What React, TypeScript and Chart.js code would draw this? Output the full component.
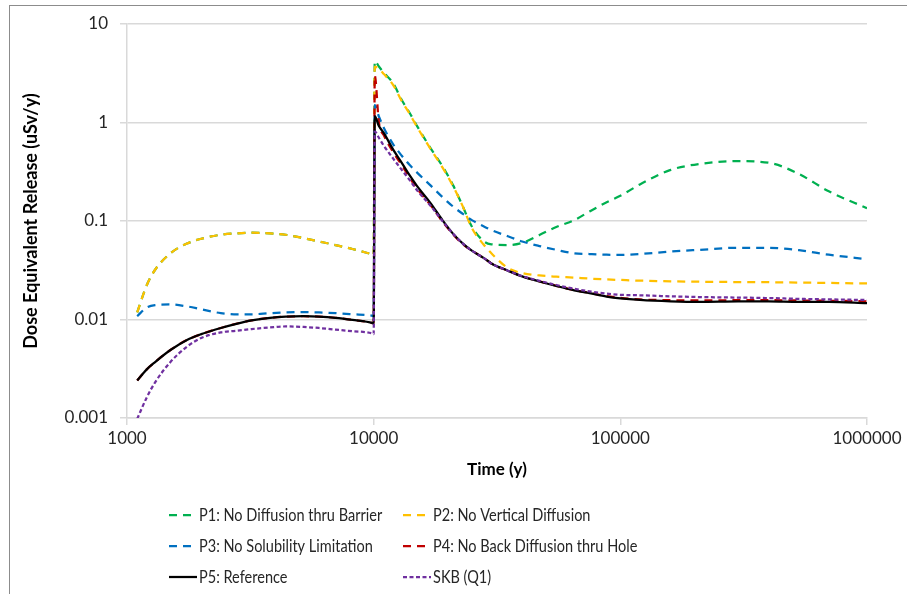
import React, { useEffect, useRef } from "react";
import { Chart, registerables } from "chart.js";

Chart.register(...registerables);

// Time (y)
const TIMES = [
  1100, 1200, 1300, 1500, 1750, 2000, 2400, 2800, 3200, 3800, 4400, 5200, 6000, 7000, 8200, 9900, 10000,
  10100, 10500, 11000, 12000, 13000, 14000, 15000, 17000, 19000, 21000, 23000, 25000, 28000, 30000, 35000,
  40000, 47000, 55000, 65000, 75000, 88000, 100000, 120000, 160000, 210000, 300000, 400000, 530000, 700000,
  1000000,
];

const P1_VALUES = [
  0.0118, 0.022, 0.032, 0.047, 0.059, 0.066, 0.0725, 0.075, 0.076, 0.075, 0.0725, 0.067, 0.062, 0.057, 0.052, 0.0455, 0.045,
  4.2, 3.7, 3.2, 2.5, 1.69, 1.25, 0.92, 0.55, 0.36, 0.23, 0.14, 0.088, 0.062, 0.058, 0.057, 0.06, 0.072, 0.087, 0.102,
  0.125, 0.155, 0.18, 0.235, 0.33, 0.38, 0.405, 0.39, 0.3, 0.2, 0.135,
];

const P2_VALUES = [
  0.0118, 0.022, 0.032, 0.047, 0.059, 0.066, 0.0725, 0.075, 0.076, 0.075, 0.0725, 0.067, 0.062, 0.057, 0.052, 0.0455, 0.045,
  3.7, 3.5, 3.1, 2.4, 1.65, 1.22, 0.9, 0.54, 0.35, 0.225, 0.14, 0.085, 0.057, 0.047, 0.0333, 0.0296, 0.028, 0.0272, 0.0266,
  0.026, 0.0255, 0.0252, 0.0248, 0.0244, 0.0242, 0.024, 0.0239, 0.0237, 0.0235, 0.0232,
];

const P3_VALUES = [
  0.0108, 0.0132, 0.014, 0.0142, 0.0136, 0.0127, 0.0116, 0.0113, 0.0113, 0.0116, 0.0118, 0.0119, 0.0118, 0.0116, 0.0113, 0.0109, 0.0108,
  1.5, 1.15, 0.88, 0.6, 0.46, 0.37, 0.31, 0.23, 0.175, 0.14, 0.118, 0.102, 0.088, 0.081, 0.07, 0.062, 0.0557, 0.051, 0.047,
  0.0462, 0.0455, 0.0453, 0.0462, 0.049, 0.051, 0.0535, 0.0535, 0.0505, 0.0455, 0.041,
];

const P4_VALUES = [
  0.0024, 0.0031, 0.0037, 0.0049, 0.0062, 0.0071, 0.0082, 0.0091, 0.0098, 0.0104, 0.0107, 0.0108, 0.0107, 0.0104, 0.0099, 0.0092, 0.0091,
  3.0, 1.0, 0.74, 0.5, 0.37, 0.275, 0.213, 0.145, 0.099, 0.073, 0.058, 0.05, 0.042, 0.037, 0.0313, 0.0274, 0.0244, 0.022, 0.0199,
  0.0186, 0.0173, 0.0166, 0.016, 0.0157, 0.0156, 0.0157, 0.0157, 0.0156, 0.0155, 0.0153,
];

const P5_VALUES = [
  0.0024, 0.0031, 0.0037, 0.0049, 0.0062, 0.0071, 0.0082, 0.0091, 0.0098, 0.0104, 0.0107, 0.0108, 0.0107, 0.0104, 0.0099, 0.0092, 0.0091,
  1.16, 0.92, 0.78, 0.53, 0.39, 0.29, 0.226, 0.152, 0.102, 0.074, 0.059, 0.05, 0.042, 0.037, 0.0313, 0.0274, 0.0243, 0.0219, 0.0198,
  0.0185, 0.0171, 0.0164, 0.0158, 0.0153, 0.0151, 0.0153, 0.0153, 0.0151, 0.0151, 0.0147,
];

const SKB_VALUES = [
  0.00098, 0.0016, 0.0023, 0.0037, 0.0053, 0.0065, 0.0074, 0.0077, 0.008, 0.0083, 0.0085, 0.0084, 0.0082, 0.0079, 0.0076, 0.0072, 0.0071,
  0.81, 0.7, 0.58, 0.43, 0.33, 0.26, 0.205, 0.143, 0.1, 0.074, 0.059, 0.05, 0.042, 0.037, 0.0313, 0.0276, 0.0247, 0.0224, 0.0205,
  0.0193, 0.0183, 0.0178, 0.0176, 0.0172, 0.0169, 0.0167, 0.0165, 0.0162, 0.016, 0.0158,
];

const SERIES_LABELS = [
  "P1: No Diffusion thru Barrier",
  "P2: No Vertical Diffusion",
  "P3: No Solubility Limitation",
  "P4: No Back Diffusion thru Hole",
  "P5: Reference",
  "SKB (Q1)",
];

const X_TICKS = [1000, 10000, 100000, 1000000];
const Y_TICKS = [0.001, 0.01, 0.1, 1, 10];
const Y_TICK_LABELS = ["0.001", "0.01", "0.1", "1", "10"];

const X_TITLE = "Time (y)";
const Y_TITLE = "Dose Equivalent Release (uSv/y)";

const FONT = "Lato, 'Liberation Sans', sans-serif";
const TEXT_COLOR = "#262626";
const GRID_COLOR = "#D9D9D9";

const legendPlugin = {
  id: "customLegend",
  afterDraw(chart: any) {
    const ctx = chart.ctx;
    const cols = [169, 403];
    const rows = [515, 546, 577];
    chart.data.datasets.forEach((ds: any, i: number) => {
      const x = cols[i % 2];
      const y = rows[Math.floor(i / 2)];
      ctx.save();
      ctx.strokeStyle = ds.borderColor;
      ctx.lineWidth = ds.borderWidth;
      ctx.setLineDash(ds.borderDash || []);
      ctx.beginPath();
      ctx.moveTo(x, y);
      ctx.lineTo(x + 28, y);
      ctx.stroke();
      ctx.setLineDash([]);
      ctx.fillStyle = TEXT_COLOR;
      ctx.font = `16.5px ${FONT}`;
      ctx.textBaseline = "middle";
      ctx.textAlign = "left";
      ctx.translate(x + 30, y + 1);
      ctx.scale(0.88, 1);
      ctx.fillText(ds.label, 0, 0);
      ctx.restore();
    });
  },
};

function toPoints(values: number[]) {
  return TIMES.map((t, i) => ({ x: t, y: values[i] }));
}

export default function App() {
  const canvasRef = useRef<HTMLCanvasElement | null>(null);

  useEffect(() => {
    if (!canvasRef.current) return;
    const styles = [
      { color: "#00B050", dash: [8, 6], width: 2.25 },
      { color: "#FFC000", dash: [8, 6], width: 2.25 },
      { color: "#0070C0", dash: [8, 6], width: 2.25 },
      { color: "#C00000", dash: [8, 6], width: 2.25 },
      { color: "#000000", dash: [], width: 2.25 },
      { color: "#7030A0", dash: [4, 2.5], width: 2.25 },
    ];
    const valueSets = [P1_VALUES, P2_VALUES, P3_VALUES, P4_VALUES, P5_VALUES, SKB_VALUES];
    const datasets = valueSets.map((vals, i) => ({
      label: SERIES_LABELS[i],
      data: toPoints(vals),
      borderColor: styles[i].color,
      backgroundColor: styles[i].color,
      borderDash: styles[i].dash,
      borderWidth: styles[i].width,
      pointRadius: 0,
      fill: false,
      cubicInterpolationMode: "monotone" as const,
      order: valueSets.length - i,
    }));

    const chart = new Chart(canvasRef.current, {
      type: "line",
      data: { datasets },
      options: {
        animation: false,
        responsive: false,
        maintainAspectRatio: false,
        layout: { padding: { left: 0, top: 24, right: 40, bottom: 106 } },
        plugins: {
          legend: { display: false },
          tooltip: { enabled: false },
        },
        scales: {
          x: {
            type: "logarithmic",
            min: 1000,
            max: 1000000,
            afterBuildTicks: (scale: any) => {
              scale.ticks = X_TICKS.map((v) => ({ value: v }));
            },
            afterFit: (scale: any) => {
              scale.height = 70;
            },
            ticks: {
              color: TEXT_COLOR,
              font: { family: FONT, size: 17 },
              padding: 3,
              maxRotation: 0,
              callback: (v: any) => String(v),
            },
            grid: {
              drawOnChartArea: false,
              color: GRID_COLOR,
              lineWidth: 1.5,
              tickLength: 7,
            },
            border: { display: true, color: GRID_COLOR, width: 1.5 },
            title: {
              display: true,
              text: X_TITLE,
              color: "#000",
              font: { family: FONT, size: 17, weight: "bold" },
              padding: { top: 0, bottom: 8 },
            },
          },
          y: {
            type: "logarithmic",
            min: 0.001,
            max: 10,
            afterBuildTicks: (scale: any) => {
              scale.ticks = Y_TICKS.map((v) => ({ value: v }));
            },
            afterFit: (scale: any) => {
              scale.width = 127;
            },
            ticks: {
              color: TEXT_COLOR,
              font: { family: FONT, size: 17 },
              padding: 12,
              callback: (v: any) => {
                const idx = Y_TICKS.findIndex((t) => Math.abs(t - v) / t < 1e-6);
                return idx >= 0 ? Y_TICK_LABELS[idx] : "";
              },
            },
            grid: {
              color: GRID_COLOR,
              lineWidth: 1.5,
              tickLength: 7,
            },
            border: { display: true, color: GRID_COLOR, width: 1.5 },
            title: {
              display: true,
              text: Y_TITLE,
              color: "#000",
              font: { family: FONT, size: 18, weight: "bold" },
              padding: { top: 20, bottom: 0 },
            },
          },
        },
      },
      plugins: [legendPlugin],
    });
    return () => chart.destroy();
  }, []);

  return (
    <div style={{ position: "fixed", left: 0, top: 0, width: 907, height: 594, background: "#fff" }}>
      <div
        style={{
          position: "absolute",
          left: 9,
          top: 5,
          right: 0,
          bottom: 0,
          borderLeft: "1px solid #8c8c8c",
          borderTop: "1px solid #8c8c8c",
        }}
      />
      <canvas ref={canvasRef} width={907} height={594} style={{ position: "absolute", left: 0, top: 0 }} />
    </div>
  );
}
